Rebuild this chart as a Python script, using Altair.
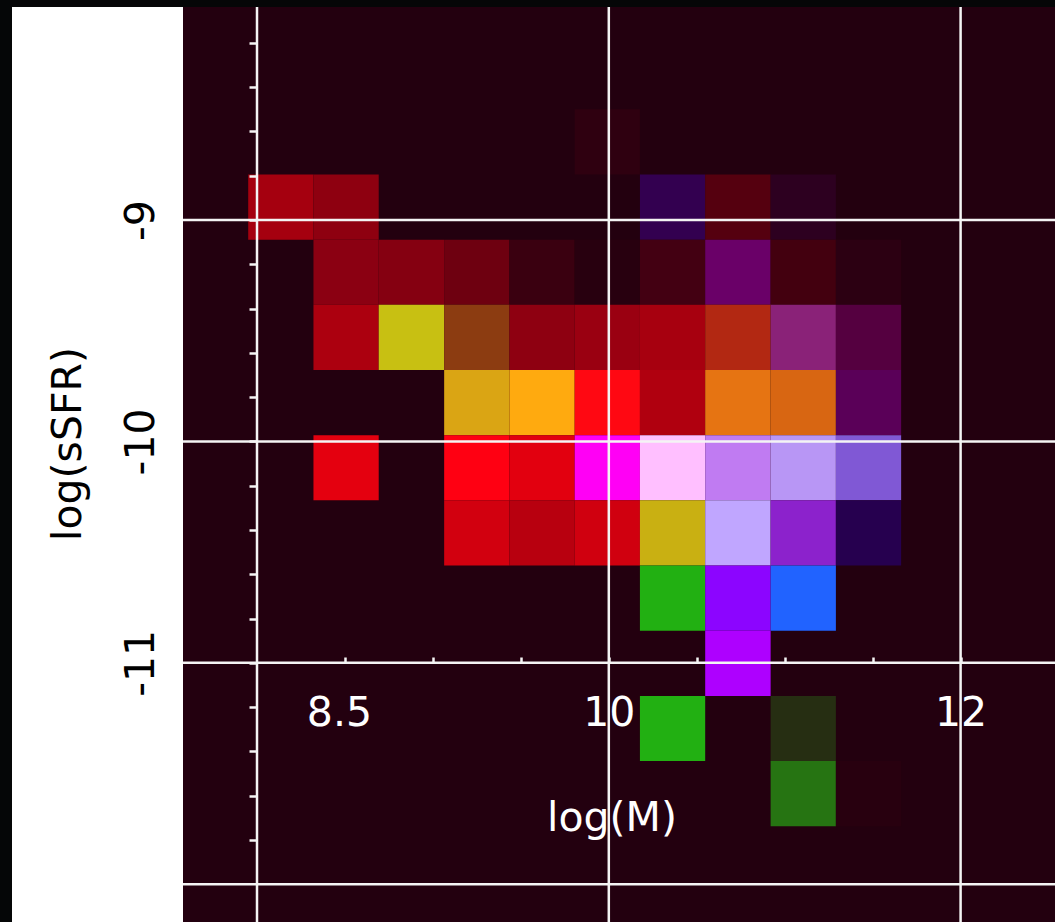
import json

import altair as alt
import pandas as pd

# 2-D histogram bin edges: log stellar mass (x) and log specific SFR (y)
x_edges = [7.950, 8.321, 8.692, 9.064, 9.435, 9.806, 10.177, 10.548, 10.920, 11.291, 11.662]
y_edges = [-8.500, -8.794, -9.089, -9.383, -9.678, -9.972, -10.266, -10.561, -10.855,
           -11.150, -11.444, -11.738]

# occupied bins: column index, row index (0 = top row) and the composite RGB colour
cell_col = [5,
            0, 1, 6, 7, 8,
            1, 2, 3, 4, 5, 6, 7, 8, 9,
            1, 2, 3, 4, 5, 6, 7, 8, 9,
            3, 4, 5, 6, 7, 8, 9,
            1, 3, 4, 5, 6, 7, 8, 9,
            3, 4, 5, 6, 7, 8, 9,
            6, 7, 8,
            7,
            6, 8,
            8, 9]
cell_row = [0,
            1, 1, 1, 1, 1,
            2, 2, 2, 2, 2, 2, 2, 2, 2,
            3, 3, 3, 3, 3, 3, 3, 3, 3,
            4, 4, 4, 4, 4, 4, 4,
            5, 5, 5, 5, 5, 5, 5, 5,
            6, 6, 6, 6, 6, 6, 6,
            7, 7, 7,
            8,
            9, 9,
            10, 10]
cell_rgb = ["#2f0010",
            "#a5000f", "#8e0010", "#330050", "#55000f", "#2d0020",
            "#8b0012", "#850011", "#6e0010", "#3a0010", "#28000f", "#430012", "#6a0068",
            "#43000f", "#2c0012",
            "#ac000f", "#c8c012", "#8c3c11", "#8e0011", "#9a0011", "#a7000f", "#b22812",
            "#8a2278", "#550040",
            "#daa514", "#ffaa0f", "#ff0812", "#b0000f", "#e67412", "#d86612", "#5a0058",
            "#e4000f", "#ff0012", "#e2000f", "#ff00f5", "#ffbfff", "#c07bf2", "#b896f5",
            "#8058d5",
            "#d2000f", "#b8000f", "#d0000f", "#c9b012", "#c0a6ff", "#8c22cc", "#26004f",
            "#22b012", "#8c05ff", "#2163ff",
            "#ae00ff",
            "#22b012", "#262e12",
            "#267412", "#28000f"]

# axis layout values
x_domain = [7.5793, 12.5367]
y_domain = [-12.1707, -8.0379]
grid_x = [8, 10, 12]
grid_y = [-9, -10, -11, -12]
x_ticks = [8.5, 9, 9.5, 10, 10.5, 11, 11.5, 12]
x_labels = [8.5, 10, 12]
y_ticks = [-8.2, -8.4, -8.6, -8.8, -9, -9.2, -9.4, -9.6, -9.8, -10, -10.2, -10.4, -10.6,
           -10.8, -11, -11.2, -11.4, -11.6, -11.8]
y_labels = [-9, -10, -11]

cells = pd.DataFrame({
    "x0": [x_edges[c] for c in cell_col],
    "x1": [x_edges[c + 1] for c in cell_col],
    "y0": [y_edges[r] for r in cell_row],
    "y1": [y_edges[r + 1] for r in cell_row],
    "rgb": cell_rgb,
})

FONT = "DejaVu Sans"
LINE = "#f4f4f4"
PLOT_BG = "#23000f"
W, H = 872, 915

xs = alt.Scale(domain=x_domain, nice=False, zero=False)
ys = alt.Scale(domain=y_domain, nice=False, zero=False)

x_axis = alt.Axis(
    values=x_ticks, grid=False, domain=False, offset=-265, zindex=1,
    ticks=True, tickSize=6, tickWidth=2.5, tickColor=LINE,
    labelExpr=f"indexof({json.dumps(x_labels)}, datum.value) >= 0 ? '' + datum.value : ''",
    labelFont=FONT, labelFontSize=41, labelColor="white", labelPadding=62,
    labelBaseline="alphabetic", labelAlign="center", labelFlush=False, labelOverlap=False,
    labelOffset={"condition": {"test": "datum.value == 8.5", "value": -6}, "value": 0},
    title="log(M)", titleFont=FONT, titleFontSize=41, titleFontWeight="normal",
    titleColor="white", titleX=428.5, titleY=173, titleAlign="center",
    titleBaseline="alphabetic", titleAngle=0,
)

y_axis = alt.Axis(
    values=y_ticks, grid=False, domain=False, offset=-73.5, zindex=1,
    ticks=True, tickSize=7.5, tickWidth=2.5, tickColor=LINE,
    labelExpr=f"indexof({json.dumps(y_labels)}, datum.value) >= 0 ? '' + datum.value : ''",
    labelFont=FONT, labelFontSize=41, labelColor="black", labelPadding=96,
    labelAngle=270, labelAlign="center", labelBaseline="alphabetic",
    labelFlush=False, labelOverlap=False,
    title="log(sSFR)", titleFont=FONT, titleFontSize=41, titleFontWeight="normal",
    titleColor="black", titleX=-176.5, titleY=436.5, titleAngle=270,
    titleAlign="center", titleBaseline="alphabetic",
)

# white band behind the y-axis labels
panel = alt.Chart(pd.DataFrame({"p": [0]})).mark_rect(color="white").encode(
    x=alt.value(-171), x2=alt.value(0), y=alt.value(0), y2=alt.value(H)
)

bins = alt.Chart(cells).mark_rect(strokeWidth=0).encode(
    x=alt.X("x0:Q", scale=xs, axis=x_axis),
    x2="x1:Q",
    y=alt.Y("y0:Q", scale=ys, axis=y_axis),
    y2="y1:Q",
    color=alt.Color("rgb:N", scale=None),
)

# grid lines at whole-unit positions, drawn over the bins
vgrid = alt.Chart(pd.DataFrame({"gx": grid_x})).mark_rule(
    color=LINE, strokeWidth=2.5
).encode(x=alt.X("gx:Q", scale=xs, axis=x_axis))

hgrid = alt.Chart(pd.DataFrame({"gy": grid_y})).mark_rule(
    color=LINE, strokeWidth=2.5
).encode(y=alt.Y("gy:Q", scale=ys, axis=y_axis))

chart = alt.layer(panel, bins, vgrid, hgrid).properties(
    width=W,
    height=H,
    background="#050607",
    padding={"left": 183, "top": 7, "right": 0, "bottom": 0},
    autosize=alt.AutoSizeParams(type="none"),
).configure_view(fill=PLOT_BG, stroke=None)

chart.save("out.html", embed_options={"renderer": "svg", "actions": False})
